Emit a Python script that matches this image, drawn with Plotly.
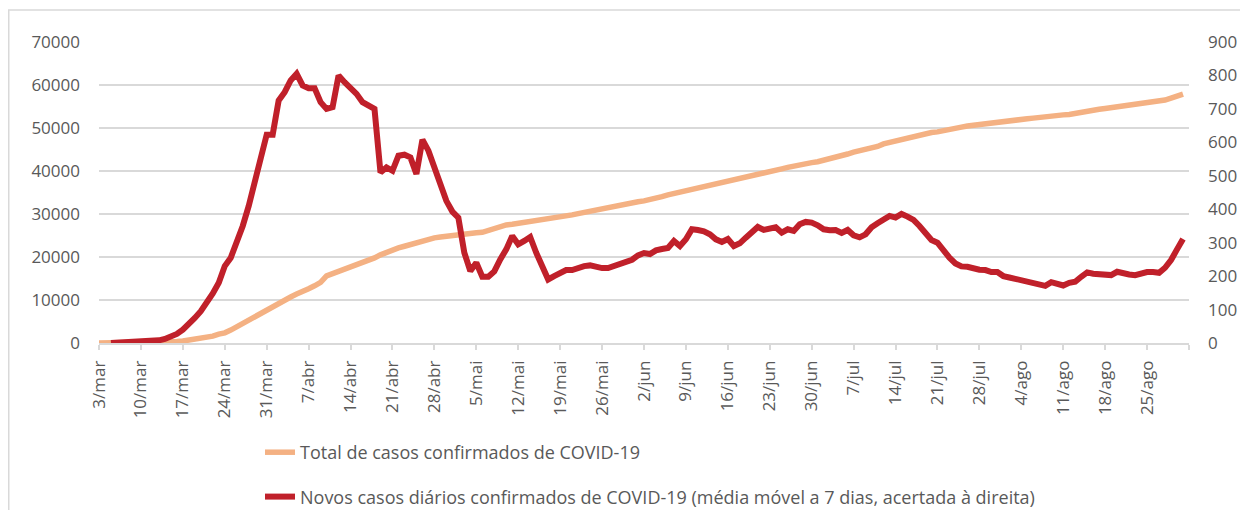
import pandas as pd
import plotly.graph_objects as go

# ---- data ----
start_date = "2020-03-03"
n_days = 182  # 3/mar .. 31/ago

total_cases = [
    2, 4, 6, 9, 13, 21, 30, 41, 59, 78,
    112, 169, 245, 331, 448, 642, 785, 1020, 1280, 1600,
    2060, 2360, 2995, 3800, 4600, 5400, 6200, 6700, 7700, 8500,
    9300, 10100, 10700, 11400, 11900, 12600, 13300, 14100, 15600, 16100,
    16700, 17100, 17700, 18300, 18900, 19200, 19800, 20500, 21100, 21600,
    22100, 22500, 22900, 23500, 23950, 24200, 24450, 24650, 24850, 25100,
    25300, 25500, 25600, 25650, 25750, 26200, 26700, 27150, 27450, 27600,
    27800, 28000, 28200, 28350, 28600, 28850, 29100, 29300, 29550, 29800,
    30100, 30400, 30650, 30850, 31050, 31300, 31600, 31950, 32250, 32600,
    32850, 33050, 33300, 33650, 34050, 34450, 34750, 35100, 35400, 35750,
    36100, 36400, 36700, 36950, 37250, 37600, 37950, 38250, 38550, 38900,
    39200, 39450, 39750, 40100, 40500, 40850, 41200, 41500, 41750, 41950,
    42150, 42450, 42750, 43050, 43500, 43950, 44400, 44650, 44950, 45200,
    45700, 46300, 46650, 47000, 47350, 47750, 48100, 48450, 48700, 48950,
    49100, 49300, 49650, 49900, 50200, 50450, 50650, 50850, 51000, 51150,
    51400, 51600, 51750, 51900, 52000, 52150, 52300, 52500, 52700, 52850,
    52950, 53050, 53150, 53450, 53750, 53950, 54150, 54350, 54550, 54750,
    54900, 55100, 55350, 55550, 55700, 55900, 56050, 56200, 56500, 56950,
    57400, 57900,
]

# 7-day moving average of new cases, starts on 5/mar
new_cases_ma7 = [
    0, 0.5, 1, 1.5, 2, 3, 4, 5,
    8, 12, 18, 27, 40, 55, 75, 95, 118, 148,
    180, 230, 255, 300, 350, 410, 480, 560, 623, 623,
    725, 750, 785, 805, 770, 762, 762, 720, 700, 705,
    800, 780, 762, 745, 720, 710, 700, 510, 525, 515,
    560, 563, 555, 505, 608, 575, 525, 470, 425, 393,
    375, 270, 215, 240, 198, 198, 214, 250, 280, 320,
    295, 305, 317, 270, 225, 190, 200, 210, 218, 218,
    225, 230, 232, 226, 224, 224, 230, 239, 246, 249,
    262, 269, 266, 277, 281, 284, 305, 290, 310, 340,
    338, 334, 325, 310, 302, 311, 290, 298, 315, 332,
    347, 338, 343, 346, 330, 340, 335, 355, 362, 360,
    352, 340, 337, 338, 329, 338, 322, 316, 325, 346,
    358, 368, 380, 375, 386, 378, 368, 350, 330, 308,
    300, 275, 255, 238, 229, 228, 222, 219, 218, 212,
    212, 200, 196, 192, 185, 182, 180, 175, 171, 182,
    176, 172, 180, 183, 198, 211, 207, 207, 207, 203,
    213, 208, 205, 203, 208, 212, 212, 210, 225, 248,
    280, 311,
]

tick_dates = [
    "2020-03-03", "2020-03-10", "2020-03-17", "2020-03-24", "2020-03-31",
    "2020-04-07", "2020-04-14", "2020-04-21", "2020-04-28", "2020-05-05",
    "2020-05-12", "2020-05-19", "2020-05-26", "2020-06-02", "2020-06-09",
    "2020-06-16", "2020-06-23", "2020-06-30", "2020-07-07", "2020-07-14",
    "2020-07-21", "2020-07-28", "2020-08-04", "2020-08-11", "2020-08-18",
    "2020-08-25", "2020-09-01",
]
tick_labels = [
    "3/mar", "10/mar", "17/mar", "24/mar", "31/mar",
    "7/abr", "14/abr", "21/abr", "28/abr", "5/mai",
    "12/mai", "19/mai", "26/mai", "2/jun", "9/jun",
    "16/jun", "23/jun", "30/jun", "7/jul", "14/jul",
    "21/jul", "28/jul", "4/ago", "11/ago", "18/ago",
    "25/ago", "",
]

name_total = "Total de casos confirmados de COVID-19"
name_new = "Novos casos diários confirmados de COVID-19 (média móvel a 7 dias, acertada à direita)"

dates = pd.date_range(start_date, periods=n_days, freq="D")
dates_new = dates[n_days - len(new_cases_ma7):]

ORANGE = "#F4B183"
RED = "#C0202A"
GRID = "#D9D9D9"
TXT = "#595959"
FONT = "Open Sans"

fig = go.Figure()
fig.add_trace(go.Scatter(
    x=dates, y=total_cases, name=name_total, mode="lines",
    line=dict(color=ORANGE, width=5.5), legendgroup="a", yaxis="y",
))
fig.add_trace(go.Scatter(
    x=dates_new, y=new_cases_ma7, name=name_new, mode="lines",
    line=dict(color=RED, width=6), legendgroup="b", yaxis="y2",
))

# the page body adds an 8px margin, so figure pixels = page pixels - 8
W, H = 1240, 522
ml, mr, mt, mb = 91, 59, 34, 187
pw, ph = W - ml - mr, H - mt - mb


def px_x(x):
    return (x - ml) / pw


def px_y(y):
    return (H - mb - y) / ph


fig.update_layout(
    width=W, height=H,
    margin=dict(l=ml, r=mr, t=mt, b=mb, autoexpand=False),
    paper_bgcolor="white", plot_bgcolor="white",
    font=dict(family=FONT, size=17, color=TXT),
    xaxis=dict(
        type="date", range=["2020-03-03", "2020-09-01"],
        tickmode="array", tickvals=tick_dates, ticktext=tick_labels,
        tickangle=-90, ticks="outside", ticklen=5, tickwidth=1.5, tickcolor=GRID,
        showline=True, linecolor=GRID, linewidth=1.5,
        showgrid=False, zeroline=False, ticklabelstandoff=4,
        tickfont=dict(size=17, color=TXT),
    ),
    yaxis=dict(
        range=[0, 70000], dtick=10000, tickformat="d",
        showgrid=True, gridcolor=GRID, gridwidth=1.5,
        zeroline=False, showline=False, ticks="",
        ticklabelstandoff=18, tickfont=dict(size=17, color=TXT),
    ),
    yaxis2=dict(
        range=[0, 900], dtick=100, overlaying="y", side="right",
        showgrid=False, zeroline=False, showline=False, ticks="",
        ticklabelstandoff=18, tickfont=dict(size=17, color=TXT),
    ),
    showlegend=True,
    legend=dict(
        orientation="v", x=px_x(252), xanchor="left",
        y=px_y(426), yanchor="top", yref="paper",
        font=dict(size=18, color=TXT),
        tracegroupgap=18, traceorder="grouped", bgcolor="rgba(0,0,0,0)",
    ),
    shapes=[
        dict(type="line", xref="paper", yref="paper",
             x0=px_x(0), x1=px_x(W), y0=px_y(2), y1=px_y(2),
             line=dict(color=GRID, width=1.5)),
        dict(type="line", xref="paper", yref="paper",
             x0=px_x(0.75), x1=px_x(0.75), y0=px_y(2), y1=px_y(502),
             line=dict(color=GRID, width=1.5)),
    ],
)

fig.write_html("out.html")
